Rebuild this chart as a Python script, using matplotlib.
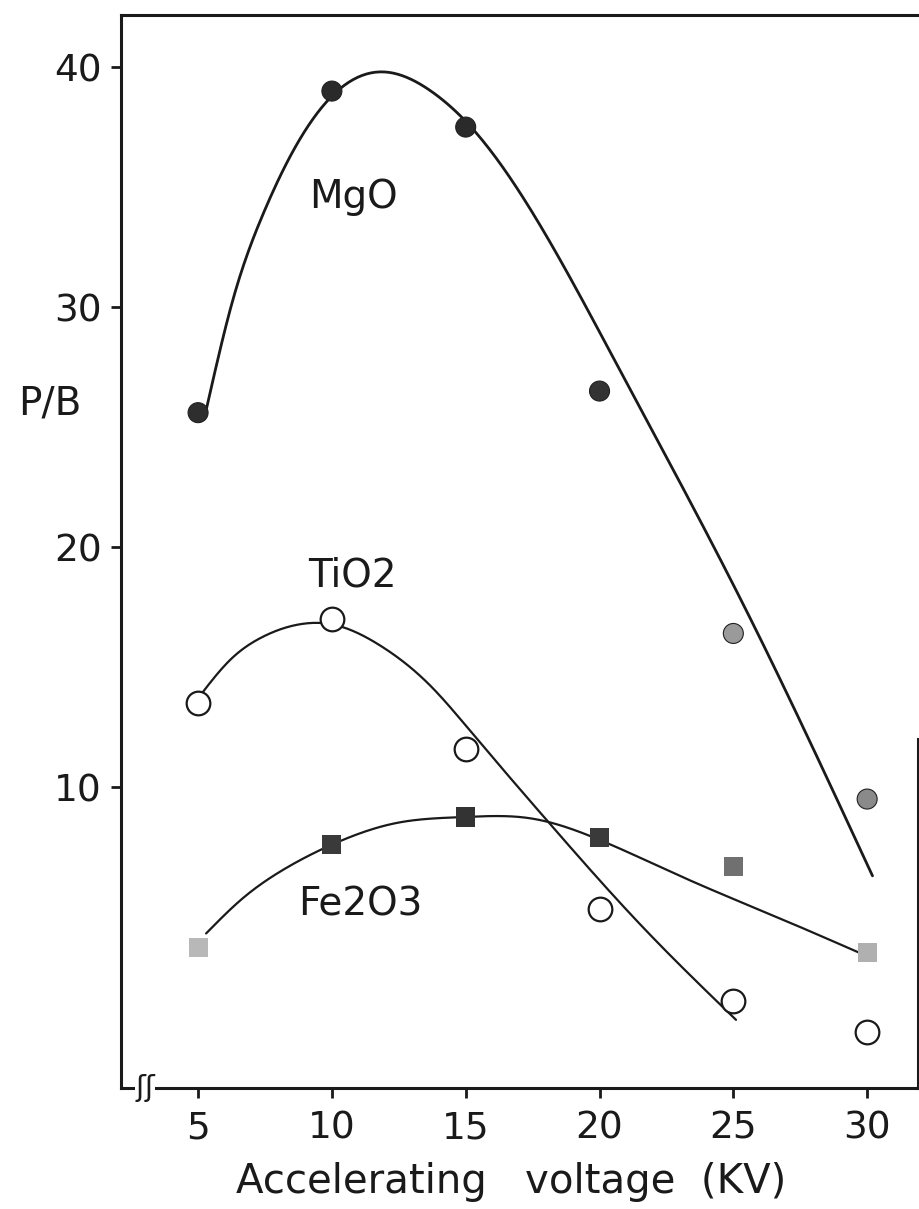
import numpy as np
import matplotlib.pyplot as plt

# measured points (accelerating voltage in kV, peak-to-background ratio)
voltage = [5, 10, 15, 20, 25, 30]
mgo = [25.6, 39.0, 37.5, 26.5, 16.4, 9.5]
tio2 = [13.5, 17.0, 11.6, 4.9, 1.1, -0.2]
fe2o3 = [3.3, 7.6, 8.75, 7.9, 6.7, 3.1]

mgo_curve_x = [5.3, 6.3, 7.4, 8.7, 10.2, 11.9, 13.7, 15.2, 20.7, 25.6, 30.2]
mgo_curve_y = [25.7, 30.3, 33.8, 36.8, 39.0, 39.8, 39.0, 37.5, 27.5, 17.1, 6.3]
tio2_curve_x = [5.0, 6.2, 7.4, 8.9, 9.9, 11.8, 13.7, 15.2, 18.2, 21.5, 25.1]
tio2_curve_y = [13.7, 15.3, 16.25, 16.8, 16.8, 15.9, 14.2, 12.3, 8.4, 4.3, 0.3]
fe2o3_curve_x = [5.3, 6.6, 8.1, 10.0, 12.4, 14.9, 17.4, 20.0, 23.1, 26.9, 29.7]
fe2o3_curve_y = [3.9, 5.3, 6.5, 7.6, 8.5, 8.75, 8.7, 7.8, 6.25, 4.45, 3.1]

# marker shading of the printed symbols
mgo_shade = ['#2e2e2e', '#2a2a2a', '#2a2a2a', '#333333', '#9a9a9a', '#8a8a8a']
fe2o3_shade = ['#b8b8b8', '#3a3a3a', '#333333', '#3a3a3a', '#707070', '#b0b0b0']

xticks = [5, 10, 15, 20, 25, 30]
yticks = [10, 20, 30, 40]


def spline(xk, yk, n=300):
    # natural cubic spline through the knots
    xk = np.asarray(xk, float)
    yk = np.asarray(yk, float)
    h = np.diff(xk)
    m = len(xk)
    A = np.zeros((m, m))
    r = np.zeros(m)
    A[0, 0] = A[-1, -1] = 1
    for i in range(1, m - 1):
        A[i, i - 1] = h[i - 1]
        A[i, i] = 2 * (h[i - 1] + h[i])
        A[i, i + 1] = h[i]
        r[i] = 3 * ((yk[i + 1] - yk[i]) / h[i] - (yk[i] - yk[i - 1]) / h[i - 1])
    c = np.linalg.solve(A, r)
    b = (yk[1:] - yk[:-1]) / h - h * (2 * c[:-1] + c[1:]) / 3
    d = (c[1:] - c[:-1]) / (3 * h)
    xs = np.linspace(xk[0], xk[-1], n)
    i = np.clip(np.searchsorted(xk, xs) - 1, 0, m - 2)
    t = xs - xk[i]
    return xs, yk[i] + b[i] * t + c[i] * t ** 2 + d[i] * t ** 3


ink = '#1a1a1a'
plt.rcParams['font.family'] = ['DejaVu Sans']

fig = plt.figure(figsize=(9.2, 12.09), dpi=100)
ax = fig.add_axes([121 / 920, 1 - 1088 / 1209, (918 - 121) / 920, (1088 - 15) / 1209])

for cx, cy, lw in [(mgo_curve_x, mgo_curve_y, 2.0),
                   (tio2_curve_x, tio2_curve_y, 1.6),
                   (fe2o3_curve_x, fe2o3_curve_y, 1.6)]:
    xs, ys = spline(cx, cy)
    ax.plot(xs, ys, color=ink, lw=lw, solid_capstyle='round', zorder=2)

ax.scatter(voltage, mgo, s=207, marker='o', c=mgo_shade, edgecolors='#202020',
           linewidths=0.8, zorder=3)
ax.scatter(voltage, tio2, s=290, marker='o', facecolors='white', edgecolors=ink,
           linewidths=1.6, zorder=3)
ax.scatter(voltage, fe2o3, s=190, marker='s', c=fe2o3_shade, edgecolors='none',
           zorder=3)

ax.text(10.8, 34.6, 'MgO', fontsize=28, color=ink, ha='center', va='center')
ax.text(10.75, 18.8, 'TiO2', fontsize=28, color=ink, ha='center', va='center')
ax.text(11.05, 5.1, 'Fe2O3', fontsize=28, color=ink, ha='center', va='center')

ax.set_xlim(2.12, 31.9)
ax.set_ylim(-2.54, 42.17)
ax.set_xticks(xticks)
ax.set_yticks(yticks)
ax.tick_params(direction='out', length=7, width=2, colors=ink, labelsize=27)
ax.tick_params(axis='y', pad=7)
ax.tick_params(axis='x', pad=9)

for s in ax.spines.values():
    s.set_linewidth(2.2)
    s.set_color(ink)
ax.spines['right'].set_bounds(-2.54, 12.0)

# axis break on the voltage axis
ax.text(3.02, -2.54, 'ʃʃ', fontsize=21, color=ink, ha='center', va='center',
        clip_on=False, zorder=4,
        bbox=dict(facecolor='white', edgecolor='none', pad=0.3))

ax.set_xlabel('Accelerating   voltage  (KV)', fontsize=29, color=ink)
ax.xaxis.set_label_coords(0.49, -0.069)
ax.set_ylabel('P/B', fontsize=28, color=ink, rotation=0, ha='center', va='center')
ax.yaxis.set_label_coords(-0.089, 0.638)

fig.savefig('out.png', dpi=100)
